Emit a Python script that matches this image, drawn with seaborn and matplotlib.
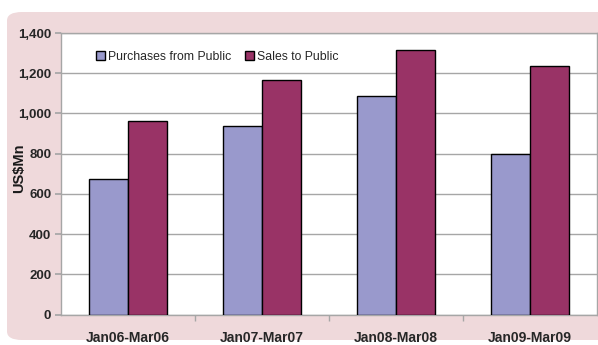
import matplotlib
matplotlib.use("Agg")
import matplotlib.pyplot as plt
from matplotlib.patches import FancyBboxPatch, Patch
import seaborn as sns
import pandas as pd

periods = ["Jan06-Mar06", "Jan07-Mar07", "Jan08-Mar08", "Jan09-Mar09"]
purchases = [672, 935, 1087, 797]
sales = [960, 1165, 1315, 1235]
series_names = ["Purchases from Public", "Sales to Public"]
y_ticks = [0, 200, 400, 600, 800, 1000, 1200, 1400]

df = pd.DataFrame({
    "period": periods * 2,
    "value": purchases + sales,
    "series": [series_names[0]] * 4 + [series_names[1]] * 4,
})

sns.set_theme(style="white")
plt.rcParams["font.family"] = ["Liberation Sans", "DejaVu Sans"]

fig = plt.figure(figsize=(5.98, 3.45), dpi=100)
fig.patch.set_facecolor("white")

# pink rounded panel behind the chart
W, H = 598, 345
panel = FancyBboxPatch((7 / W, 5 / H), 620 / W, 328 / H,
                       boxstyle="round,pad=0,rounding_size=0.025",
                       transform=fig.transFigure, facecolor="#EFD9DB",
                       edgecolor="none", zorder=-10)
fig.add_artist(panel)

ax = fig.add_axes([61 / W, 1 - 314.5 / H, 536 / W, (314.5 - 33) / H])
ax.set_zorder(5)
ax.set_facecolor("white")

colors = {"Purchases from Public": "#9999CC", "Sales to Public": "#993366"}
sns.barplot(data=df, x="period", y="value", hue="series", palette=colors,
            width=0.58, edgecolor="black", linewidth=1, ax=ax, legend=False,
            saturation=1, zorder=3)

ax.set_ylim(0, 1400)
ax.set_xlim(-0.5, 3.5)
ax.set_yticks(y_ticks)
ax.set_yticklabels([f"{v:,}" for v in y_ticks], fontsize=9.5, fontweight="bold")
ax.yaxis.grid(True, color="#A6A6A6", linewidth=1, zorder=0)
ax.set_axisbelow(True)

ax.set_xticks(range(len(periods)))
ax.set_xticklabels(periods, fontsize=10, fontweight="bold")
ax.tick_params(axis="x", length=0, pad=12)
ax.tick_params(axis="y", length=4, color="#A6A6A6", pad=3, left=True)
# category boundary ticks
ax.set_xticks([0.5, 1.5, 2.5], minor=True)
ax.tick_params(axis="x", which="minor", length=4, color="#A6A6A6", bottom=True)

for side in ["left", "bottom", "top", "right"]:
    ax.spines[side].set_visible(True)
    ax.spines[side].set_color("#A6A6A6")
    ax.spines[side].set_linewidth(1)

ax.set_xlabel("")
ax.set_ylabel("")
fig.text(19 / W, 1 - 168 / H, "US$Mn", rotation=90, ha="center", va="center",
         fontsize=10.5, fontweight="bold", color="#1a1a1a")

handles = [Patch(facecolor=colors[n], edgecolor="black", linewidth=1) for n in series_names]
ax.legend(handles, series_names, loc="upper left", bbox_to_anchor=(0.045, 0.975),
          ncol=2, frameon=False, fontsize=8.8, handlelength=0.7, handleheight=0.7,
          handletextpad=0.3, columnspacing=1.1)

fig.savefig("out.png", dpi=100)
